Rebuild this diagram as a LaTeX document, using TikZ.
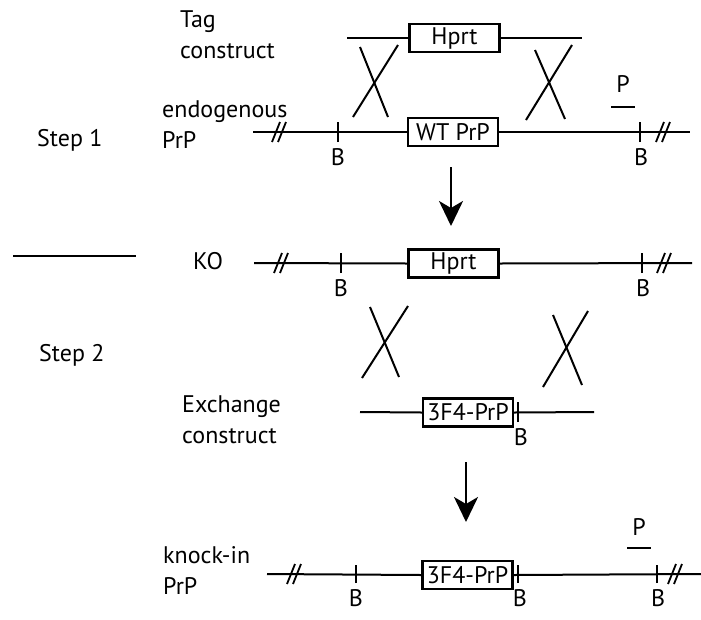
\documentclass[tikz,border=0pt]{standalone}
\usepackage{fontspec}
\setmainfont{PT Sans}
\usetikzlibrary{arrows.meta}
\begin{document}
\begin{tikzpicture}[x=1pt,y=-1pt,
  dna/.style={line width=2pt},
  gene/.style={draw, line width=2.4pt, minimum width=90pt, minimum height=28pt, inner sep=0pt, font=\fontsize{24}{26}\selectfont},
  lbl/.style={font=\fontsize{24}{31}\selectfont, align=left, inner sep=0pt, anchor=west},
  blbl/.style={font=\fontsize{24}{26}\selectfont, inner sep=0pt},
  xover/.style={line width=2pt},
  tickm/.style={line width=2pt},
  arr/.style={line width=2.4pt, -{Stealth[length=25pt,width=24pt,inset=7pt]}},
  brkmark/.pic={\draw[line width=1.8pt] (-7,10) -- (1,-10); \draw[line width=1.8pt] (-1,10) -- (7,-10);}
]
\useasboundingbox (0,0) rectangle (701,619);
\fill[white] (0,0) rectangle (701,619);

% ---------- left labels ----------
\node[lbl] (tagl) at (180,35) {Tag\\construct};
\node[lbl] (endl) at (162,125) {endogenous\\PrP};
\node[lbl] (step1) at (37,140) {Step 1};
\node[lbl] (kol) at (193,261) {KO};
\node[lbl] (step2) at (39,355) {Step 2};
\node[lbl] (exl) at (182,420) {Exchange\\construct};
\node[lbl] (kil) at (163,570) {knock-in\\PrP};

\coordinate (sepL) at (13,256);
\coordinate (sepR) at (136,256);
\draw[line width=2.2pt] (sepL) -- (sepR);

% ---------- Tag construct ----------
\node[gene] (tagH) at (454.5,38) {Hprt};
\coordinate (tagA) at (347,38);
\coordinate (tagB) at (582,38);
\draw[dna] (tagA) -- (tagH.west);
\draw[dna] (tagH.east) -- (tagB);

% crossovers step 1
\draw[xover] (353,117) -- (398,45);
\draw[xover] (360,47) -- (388,117);
\draw[xover] (526,120) -- (572,45);
\draw[xover] (535,50) -- (565,119);

% ---------- endogenous PrP ----------
\node[gene] (wt) at (453,132) {WT PrP};
\coordinate (e1) at (253,132);
\coordinate (e2) at (690,132);
\draw[dna] (e1) -- (wt.west);
\draw[dna] (wt.east) -- (e2);
\pic at (279,132) {brkmark};
\pic at (663,132) {brkmark};
\coordinate (eb1) at (338,132);
\coordinate (eb2) at (640,132);
\draw[tickm] ([yshift=-10pt]eb1) -- ([yshift=10pt]eb1);
\draw[tickm] ([yshift=-10pt]eb2) -- ([yshift=10pt]eb2);
\node[blbl] (eB1) at (338,157) {B};
\node[blbl] (eB2) at (641,157) {B};
\node[blbl] (P1) at (623,84) {P};
\coordinate (p1a) at (611,107);
\coordinate (p1b) at (635,107);
\draw[dna] (p1a) -- (p1b);

% arrow 1
\coordinate (a1s) at (451,167);
\coordinate (a1e) at (451,226);
\draw[arr] (a1s) -- (a1e);

% ---------- KO ----------
\node[gene] (ko) at (453.5,263.5) {Hprt};
\coordinate (k1) at (254,263);
\coordinate (k2) at (692,263);
\draw[dna] (k1) -- (ko.west);
\draw[dna] (ko.east) -- (k2);
\pic at (281,263) {brkmark};
\pic at (664,263) {brkmark};
\coordinate (kb1) at (341,263);
\coordinate (kb2) at (642,263);
\draw[tickm] ([yshift=-10pt]kb1) -- ([yshift=10pt]kb1);
\draw[tickm] ([yshift=-10pt]kb2) -- ([yshift=10pt]kb2);
\node[blbl] (kB1) at (341,288) {B};
\node[blbl] (kB2) at (643,288) {B};

% crossovers step 2
\draw[xover] (370,307) -- (399,377);
\draw[xover] (362,378) -- (408,306);
\draw[xover] (553,315) -- (582,385);
\draw[xover] (543,387) -- (588,311);

% ---------- Exchange construct ----------
\node[gene] (ex) at (468,412.5) {3F4-PrP};
\coordinate (x1) at (360,412);
\coordinate (x2) at (594,412);
\draw[dna] (x1) -- (ex.west);
\draw[dna] (ex.east) -- (x2);
\coordinate (xb1) at (518,412);
\draw[tickm] ([yshift=-10pt]xb1) -- ([yshift=10pt]xb1);
\node[blbl] (xB1) at (521,437) {B};

% arrow 2
\coordinate (a2s) at (466,462);
\coordinate (a2e) at (466,522);
\draw[arr] (a2s) -- (a2e);

% ---------- knock-in ----------
\node[gene] (ki) at (467.5,575) {3F4-PrP};
\coordinate (n1) at (267,574);
\coordinate (n2) at (701,574);
\draw[dna] (n1) -- (ki.west);
\draw[dna] (ki.east) -- (n2);
\pic at (294,574) {brkmark};
\pic at (675,574) {brkmark};
\coordinate (nb1) at (356,574);
\coordinate (nb2) at (518,574);
\coordinate (nb3) at (657,574);
\draw[tickm] ([yshift=-9pt]nb1) -- ([yshift=9pt]nb1);
\draw[tickm] ([yshift=-9pt]nb2) -- ([yshift=9pt]nb2);
\draw[tickm] ([yshift=-9pt]nb3) -- ([yshift=9pt]nb3);
\node[blbl] (nB1) at (356,598) {B};
\node[blbl] (nB2) at (520,598) {B};
\node[blbl] (nB3) at (658,598) {B};
\node[blbl] (P2) at (639,527) {P};
\coordinate (p2a) at (627,548);
\coordinate (p2b) at (651,548);
\draw[dna] (p2a) -- (p2b);
\end{tikzpicture}
\end{document}
